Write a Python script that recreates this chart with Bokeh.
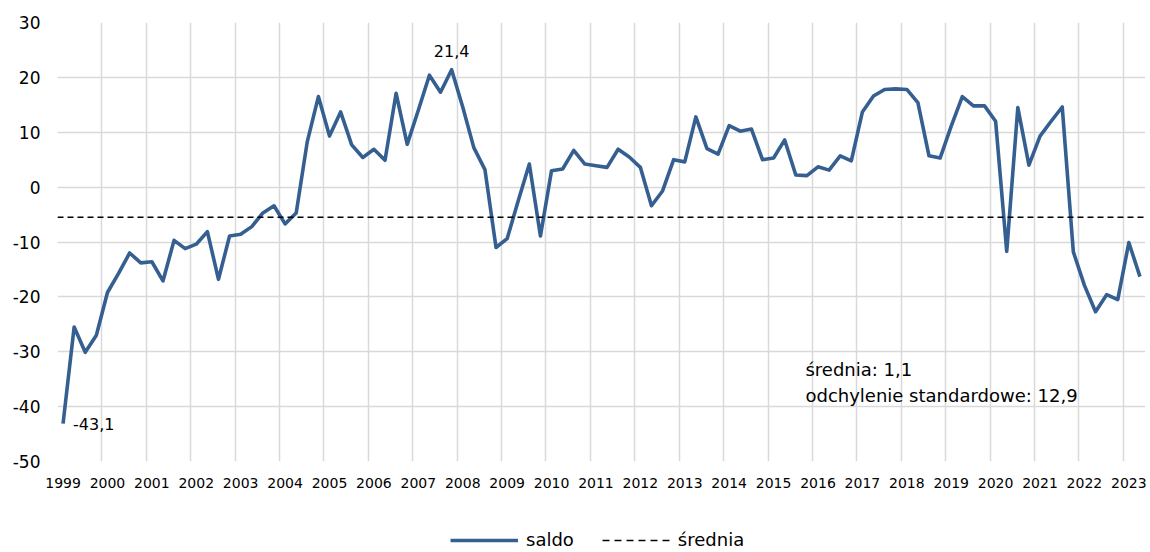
from bokeh.plotting import figure
from bokeh.layouts import column
from bokeh.models import FixedTicker, Legend, LegendItem, Label, Range1d, ColumnDataSource
from bokeh.embed import file_html
from bokeh.resources import INLINE

# ---- data -------------------------------------------------------------
years = [str(y) for y in range(1999, 2024)]
quarters = [f"{y}Q{q}" for y in range(1999, 2024) for q in range(1, 5)][:98]
saldo = [
    -43.1, -25.5, -30.1, -27.0,   # 1999
    -19.2, -15.7, -12.0, -13.8,   # 2000
    -13.6, -17.1, -9.7, -11.2,    # 2001
    -10.4, -8.1, -16.8, -8.9,     # 2002
    -8.6, -7.2, -4.7, -3.4,       # 2003
    -6.7, -4.7, 8.3, 16.5,        # 2004
    9.3, 13.7, 7.7, 5.4,          # 2005
    6.9, 4.9, 17.1, 7.8,          # 2006
    14.0, 20.4, 17.3, 21.4,       # 2007
    14.6, 7.2, 3.2, -11.0,        # 2008
    -9.4, -2.5, 4.2, -8.9,        # 2009
    3.0, 3.3, 6.7, 4.2,           # 2010
    3.9, 3.6, 6.9, 5.5,           # 2011
    3.6, -3.4, -0.7, 5.0,         # 2012
    4.6, 12.8, 7.0, 6.0,          # 2013
    11.2, 10.2, 10.6, 5.0,        # 2014
    5.3, 8.6, 2.2, 2.1,           # 2015
    3.7, 3.1, 5.7, 4.8,           # 2016
    13.7, 16.6, 17.8, 17.9,       # 2017
    17.8, 15.4, 5.7, 5.3,         # 2018
    11.1, 16.5, 14.8, 14.8,       # 2019
    12.0, -11.7, 14.5, 4.0,       # 2020
    9.3, 12.0, 14.6, -11.8,       # 2021
    -17.9, -22.7, -19.6, -20.5,   # 2022
    -10.1, -16.3,                 # 2023
]
mean_line = -5.5
series_names = ["saldo", "średnia"]
annotation_lines = ["średnia: 1,1", "odchylenie standardowe: 12,9"]
max_label = "21,4"
min_label = "-43,1"
y_ticks = [-50, -40, -30, -20, -10, 0, 10, 20, 30]

x_idx = list(range(len(saldo)))
src = ColumnDataSource(dict(x=x_idx, y=saldo, q=quarters))
mean_src = ColumnDataSource(dict(x=[-0.5, len(saldo) - 0.5], y=[mean_line, mean_line]))

FONT = "DejaVu Sans"
BLUE = "#365F91"
GRID = "#D9D9D9"
W = 1148

p = figure(width=W, height=497, output_backend="svg", toolbar_location=None,
           x_range=Range1d(-0.5, len(saldo) - 0.5), y_range=Range1d(-50, 30),
           min_border_left=57, min_border_right=3, min_border_top=22, min_border_bottom=36)
p.outline_line_color = None
p.background_fill_color = "white"
p.border_fill_color = "white"

# grid
p.xgrid.ticker = FixedTicker(ticks=[4 * k - 0.5 for k in range(len(years))])
p.xgrid.grid_line_color = GRID
p.xgrid.grid_line_width = 1.5
p.ygrid.ticker = FixedTicker(ticks=y_ticks)
p.ygrid.grid_line_color = GRID
p.ygrid.grid_line_width = 1.5

# axes
p.xaxis.ticker = FixedTicker(ticks=[4 * k for k in range(len(years))])
p.xaxis.major_label_overrides = {4 * k: y for k, y in enumerate(years)}
p.yaxis.ticker = FixedTicker(ticks=y_ticks)
p.yaxis.major_label_overrides = {t: str(t) for t in y_ticks}
for ax in (p.xaxis[0], p.yaxis[0]):
    ax.axis_line_color = None
    ax.major_tick_line_color = None
    ax.minor_tick_line_color = None
    ax.major_tick_out = 0
    ax.major_tick_in = 0
    ax.minor_tick_out = 0
    ax.minor_tick_in = 0
    ax.major_label_text_font = FONT
    ax.major_label_text_color = "black"
p.xaxis.major_label_text_font_size = "14px"
p.xaxis.major_label_standoff = 16
p.yaxis.major_label_text_font_size = "17px"
p.yaxis.major_label_standoff = 17

# series
p.line("x", "y", source=src, line_color=BLUE, line_width=3.6, line_join="round")
p.line("x", "y", source=mean_src, line_color="black", line_width=1.6, line_dash="6 4")

# labels
p.add_layout(Label(x=35, y=24.75, text=max_label, text_align="center", text_baseline="alphabetic",
                   text_font=FONT, text_font_size="16px", text_color="black"))
p.add_layout(Label(x=0, y=-43.1, x_offset=10, text=min_label, text_align="left", text_baseline="middle",
                   text_font=FONT, text_font_size="16px", text_color="black"))
p.add_layout(Label(x=66.87, y=-33.18, text=annotation_lines[0], text_align="left", text_baseline="alphabetic",
                   text_font=FONT, text_font_size="18px", text_color="black"))
p.add_layout(Label(x=66.87, y=-37.97, text=annotation_lines[1], text_align="left", text_baseline="alphabetic",
                   text_font=FONT, text_font_size="18px", text_color="black"))

# ---- legend strip (same series, drawn out of view; only the legend shows) ----
lf = figure(width=W, height=52, output_backend="svg", toolbar_location=None,
            x_axis_type=None, y_axis_type=None,
            x_range=Range1d(-0.5, len(saldo) - 0.5), y_range=Range1d(100, 101),
            min_border_left=0, min_border_right=0, min_border_top=0, min_border_bottom=0)
lf.outline_line_color = None
lf.grid.visible = False
l1 = lf.line("x", "y", source=src, line_color=BLUE, line_width=3.6)
l2 = lf.line("x", "y", source=mean_src, line_color="black", line_width=1.6, line_dash="7 5")
legend = Legend(items=[LegendItem(label=series_names[0], renderers=[l1]),
                       LegendItem(label=series_names[1], renderers=[l2])],
                orientation="horizontal", location=(393, -1),
                glyph_width=68, glyph_height=18, label_height=18, label_standoff=8, spacing=28,
                padding=0, margin=0, border_line_color=None, background_fill_alpha=0,
                label_text_font=FONT, label_text_font_size="18px", label_text_color="black")
lf.add_layout(legend, "center")

layout = column(p, lf, spacing=0)
open("out.html", "w").write(file_html(layout, INLINE))
